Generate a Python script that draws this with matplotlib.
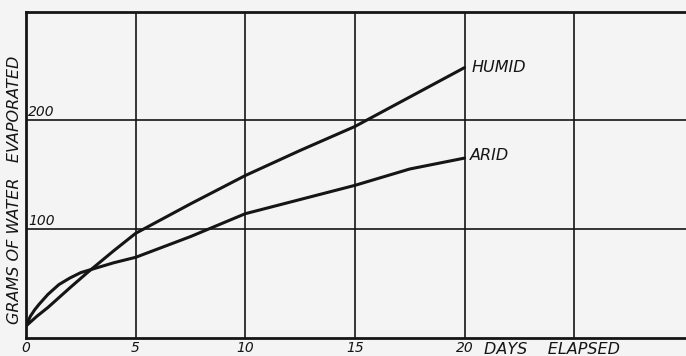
import matplotlib.pyplot as plt

# days elapsed vs grams of water evaporated
humid_days = [0, 0.5, 1, 2, 2.8, 4, 5, 7.5, 10, 12.5, 15, 17.5, 20]
humid_grams = [11, 20, 28, 46, 60, 80, 96, 123, 149, 172, 194, 221, 248]
arid_days = [0, 0.2, 0.4, 0.6, 1, 1.5, 2, 2.5, 3, 4, 5, 7.5, 10, 12.5, 15, 17.5, 20]
arid_grams = [11, 20, 26, 31, 40, 49, 55, 60, 63, 69, 74, 93, 114, 127, 140, 155, 165]

x_ticks = [0, 5, 10, 15, 20]
x_grid = [5, 10, 15, 20, 25]
y_ticks = [100, 200]

ink = "#151515"
paper = "#f4f4f4"
font = dict(family="DejaVu Sans", style="italic", color=ink)

fig = plt.figure(figsize=(6.86, 3.56), dpi=100, facecolor=paper)
ax = fig.add_axes([26 / 686, 18 / 356, 660 / 686, 326 / 356], facecolor=paper)

ax.plot(humid_days, humid_grams, color=ink, lw=2.2, solid_capstyle="round",
        solid_joinstyle="round")
ax.plot(arid_days, arid_grams, color=ink, lw=2.2, solid_capstyle="round",
        solid_joinstyle="round")

ax.set_xlim(0, 30.1)
ax.set_ylim(0, 299)

for x in x_grid:
    ax.axvline(x, color=ink, lw=1.2)
for y in y_ticks:
    ax.axhline(y, color=ink, lw=1.2)

for side in ["left", "bottom", "top"]:
    ax.spines[side].set_linewidth(2.0)
    ax.spines[side].set_color(ink)
ax.spines["right"].set_visible(False)

ax.set_xticks(x_ticks)
ax.set_xticklabels([str(v) for v in x_ticks], fontsize=10, **font)
ax.tick_params(axis="x", length=0, pad=2)
ax.set_yticks([])

# y values written just above the grid lines, inside the frame
for y in y_ticks:
    ax.text(0.1, y + 1, str(y), fontsize=10, ha="left", va="bottom", **font)

ax.text(20.9, -4, "DAYS    ELAPSED", fontsize=11.5, ha="left", va="top", **font)
ax.text(20.3, humid_grams[-1], "HUMID", fontsize=11.5, ha="left", va="center", **font)
ax.text(20.25, arid_grams[-1] + 2, "ARID", fontsize=11.5, ha="left", va="center", **font)

fig.text(15 / 686, 1 - 190 / 356, "GRAMS OF WATER   EVAPORATED", rotation=90,
         fontsize=11.5, ha="center", va="center", **font)

fig.savefig("out.png", dpi=100, facecolor=paper)
